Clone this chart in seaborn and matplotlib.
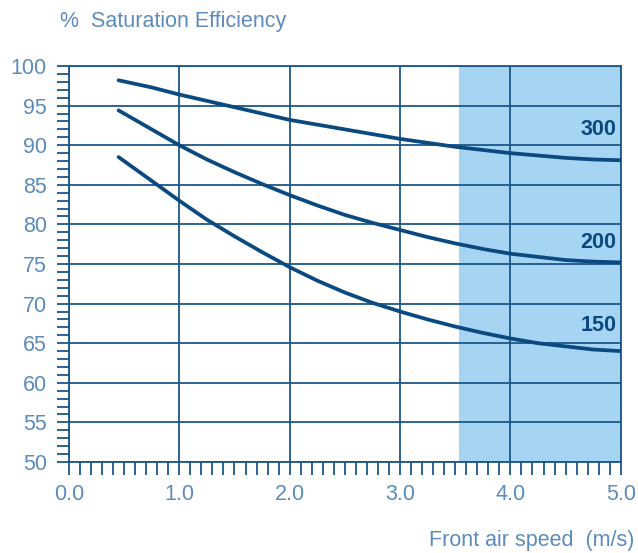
import numpy as np
import pandas as pd
import matplotlib
matplotlib.use("Agg")
import matplotlib.pyplot as plt
import seaborn as sns
from matplotlib.ticker import MultipleLocator

# --- data ---
speed = [0.45, 0.75, 1.0, 1.25, 1.5, 1.75, 2.0, 2.25, 2.5, 2.75, 3.0,
         3.25, 3.5, 3.75, 4.0, 4.25, 4.5, 4.75, 5.0]
eff_300 = [98.2, 97.3, 96.4, 95.6, 94.8, 94.0, 93.2, 92.6, 92.0, 91.4, 90.8,
           90.3, 89.8, 89.4, 89.0, 88.7, 88.4, 88.2, 88.1]
eff_200 = [94.4, 92.0, 90.0, 88.2, 86.6, 85.1, 83.7, 82.4, 81.2, 80.2, 79.3,
           78.4, 77.6, 76.9, 76.3, 75.9, 75.5, 75.3, 75.2]
eff_150 = [88.5, 85.5, 83.0, 80.6, 78.5, 76.5, 74.6, 72.9, 71.4, 70.1, 69.0,
           68.0, 67.1, 66.3, 65.6, 65.0, 64.6, 64.2, 64.0]
series_names = ["300", "200", "150"]
label_y = [92.0, 77.7, 67.2]
shade_range = (3.53, 5.0)

df = pd.DataFrame({
    "speed": speed * 3,
    "eff": eff_300 + eff_200 + eff_150,
    "depth": [n for n in series_names for _ in speed],
})

navy = "#0b4a80"
grid_col = "#1d5688"
text_col = "#5b8cbc"

sns.set_style("white")
plt.rcParams["font.family"] = ["Liberation Sans", "DejaVu Sans"]

fig = plt.figure(figsize=(6.38, 5.53), dpi=100)
ax = fig.add_axes([0.108, 0.1646, 0.865, 0.716])

ax.axvspan(*shade_range, color="#a5d5f3", lw=0, zorder=0)

sns.lineplot(data=df, x="speed", y="eff", hue="depth",
             palette=[navy] * 3, linewidth=2.7, legend=False, ax=ax, zorder=3)

for name, y in zip(series_names, label_y):
    ax.text(4.96, y, name, ha="right", va="center", fontsize=15.5,
            fontweight="bold", color=navy, zorder=4)

ax.set_xlim(0, 5)
ax.set_ylim(50, 100)
ax.xaxis.set_major_locator(MultipleLocator(1))
ax.xaxis.set_minor_locator(MultipleLocator(0.1))
ax.yaxis.set_major_locator(MultipleLocator(5))
ax.yaxis.set_minor_locator(MultipleLocator(1))
ax.set_xticklabels([f"{v:.1f}" for v in ax.get_xticks()])

ax.grid(True, which="major", color=grid_col, lw=1.3)
ax.set_axisbelow(False)
for s in ax.spines.values():
    s.set_color(grid_col)
    s.set_linewidth(1.3)

ax.tick_params(which="both", direction="out", color=grid_col, width=1.3,
               bottom=True, left=True, labelcolor=text_col, labelsize=15.5)
ax.tick_params(which="both", length=9)
ax.tick_params(axis="y", which="major", pad=7)
ax.tick_params(axis="x", which="major", pad=7)

ax.set_xlabel("")
ax.set_ylabel("")
fig.text(0.094, 0.962, "%  Saturation Efficiency", fontsize=15.5, color=text_col,
         ha="left", va="center")
fig.text(0.995, 0.022, "Front air speed  (m/s)", fontsize=15.5, color=text_col,
         ha="right", va="center")

fig.savefig("out.png", dpi=100)
